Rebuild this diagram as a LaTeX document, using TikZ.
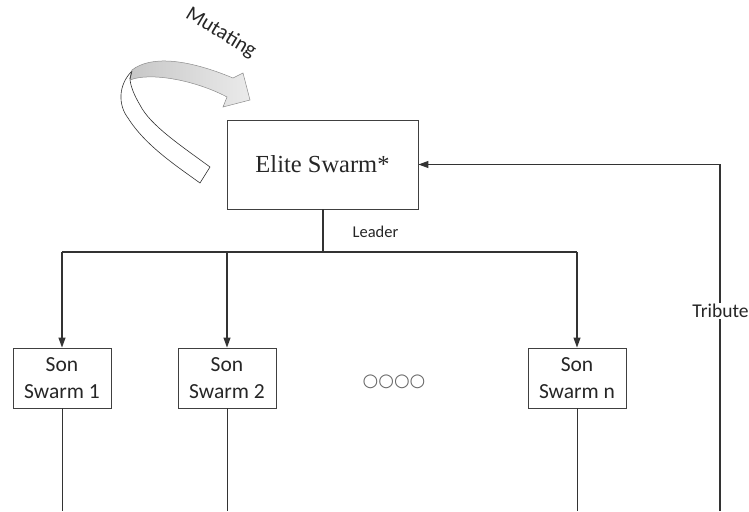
\documentclass[tikz,border=0pt]{standalone}
\usepackage{fontspec}
\setmainfont{Liberation Serif}
\newfontfamily\labelfont{Carlito}
\newfontfamily\symfont{DejaVu Sans}
\usetikzlibrary{arrows.meta}
\begin{document}
\begin{tikzpicture}[x=1pt,y=-1pt,
  line/.style={draw=black!80,line width=1.2pt},
  arr/.style={line,-{Triangle[length=10pt,width=7pt]}},
  swarmbox/.style={draw=black!75,line width=0.9pt,minimum width=98pt,minimum height=60pt,
    align=center,font=\labelfont\fontsize{21.5}{26.5}\selectfont,inner sep=2pt,text=black!85},
  elitebox/.style={draw=black!75,line width=0.9pt,minimum width=191pt,minimum height=89pt,
    font=\fontsize{24.5}{28}\selectfont,text=black!85},
  lbl/.style={font=\labelfont\fontsize{19.5}{22}\selectfont,text=black!85}]
\useasboundingbox (0,0) rectangle (749,511);

% boxes
\node[elitebox] (elite) at (322.5,164.5) {Elite Swarm*};
\node[swarmbox] (s1) at (62,378) {Son\\Swarm 1};
\node[swarmbox] (s2) at (227,378) {Son\\Swarm 2};
\node[swarmbox] (sn) at (577,378) {Son\\Swarm n};
\node[font=\symfont\fontsize{18}{20}\selectfont,text=black!60,inner sep=0pt] (dots) at (394,382) {○○○○};

% leader distribution
\coordinate (hub) at (323,252);
\coordinate (hl) at (62,252);
\coordinate (hr) at (577,252);
\draw[line] (elite.south -| hub) -- (hub);
\draw[line] (hl) -- (hr);
\draw[arr] (hl) -- (s1.north);
\draw[arr] (hub -| s2) -- (s2.north);
\draw[arr] (hr) -- (sn.north);
\node[lbl,font=\labelfont\fontsize{16.5}{19}\selectfont] (leader) at (375.5,232) {Leader};

% outgoing lines at the bottom
\coordinate (b1) at (62,511);
\coordinate (b2) at (227,511);
\coordinate (bn) at (577,511);
\draw[line,line width=1pt] (s1.south) -- (b1);
\draw[line,line width=1pt] (s2.south) -- (b2);
\draw[line,line width=1pt] (sn.south) -- (bn);

% tribute feedback
\coordinate (tb) at (720,511);
\coordinate (tc) at (720,164.5);
\draw[arr] (tb) -- (tc) -- (elite.east);
\node[lbl,fill=white,inner sep=1pt] (tribute) at (720.5,311) {Tribute};

% curved mutation arrow
\fill[white,draw=black!80,line width=0.6pt]
  (132,71) .. controls (118,85) and (118,105) .. (128,118)
  .. controls (145,145) and (175,165) .. (200,183)
  -- (210,167)
  .. controls (180,145) and (150,125) .. (140,105)
  .. controls (134,95) and (130,85) .. (130,78) -- cycle;
\shade[left color=black!22,right color=black!8,draw=black!45,line width=0.5pt]
  (132,70) .. controls (150,56) and (185,58) .. (233,78)
  -- (243,73) -- (250,100) -- (223,107) -- (227,97)
  .. controls (195,80) and (150,72) .. (130,80) -- cycle;
\draw[black!80,line width=0.6pt] (132,71) -- (130,79);
\node[font=\labelfont\fontsize{21}{24}\selectfont,text=black!85,rotate=-31] (mut) at (221,33) {Mutating};
\end{tikzpicture}
\end{document}
